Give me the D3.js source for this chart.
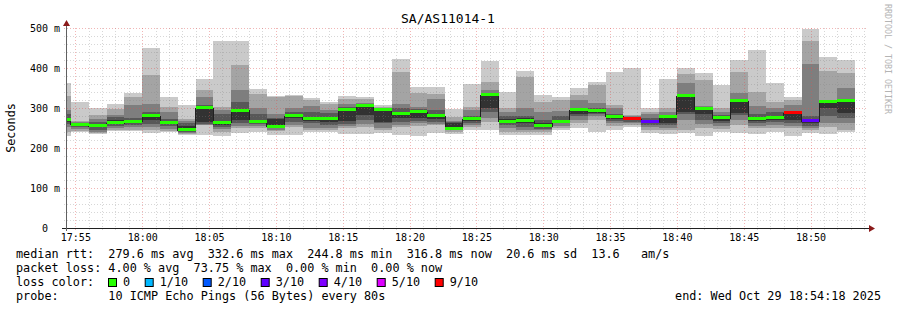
<!DOCTYPE html>
<html>
<head>
<meta charset="UTF-8">
<title>SA/AS11014-1</title>
<script src="https://d3js.org/d3.v7.min.js"></script>
<style>
  body { margin: 0; background: #fff; }
  svg { display: block; }
  text { font-family: "DejaVu Sans Mono", monospace; fill: #000; white-space: pre; }
</style>
</head>
<body>
<svg width="897" height="310"></svg>
<script>
// time window of the graph and the 80s steps (first one is cut by the left edge)
const viewStart = "17:54:18", viewEnd = "18:54:18";
const stepSeconds = 80;
const stepStarts = ["17:53:20","17:54:40","17:56:00","17:57:20","17:58:40","18:00:00","18:01:20","18:02:40",
  "18:04:00","18:05:20","18:06:40","18:08:00","18:09:20","18:10:40","18:12:00","18:13:20","18:14:40",
  "18:16:00","18:17:20","18:18:40","18:20:00","18:21:20","18:22:40","18:24:00","18:25:20","18:26:40",
  "18:28:00","18:29:20","18:30:40","18:32:00","18:33:20","18:34:40","18:36:00","18:37:20","18:38:40",
  "18:40:00","18:41:20","18:42:40","18:44:00","18:45:20","18:46:40","18:48:00","18:49:20","18:50:40","18:52:00"];

// 10 sorted pings per step (ms)
const pings = [
  [230,240,252,260,266,274,285,295,330,362],
  [240,243,248,252,256,260,262,264,268,315],
  [236,238,240,245,252,258,266,272,282,299],
  [243,246,250,255,260,270,278,282,297,309],
  [242,246,252,258,263,268,275,307,327,338],
  [237,245,252,260,270,284,290,310,382,450],
  [240,243,248,255,260,266,272,290,302,327],
  [232,235,237,240,242,255,262,268,273,307],
  [232,257,258,260,264,300,308,328,345,372],
  [231,240,248,252,258,266,285,295,302,467],
  [237,249,255,262,270,295,314,345,407,467],
  [241,249,255,260,263,270,285,300,335,347],
  [232,242,245,250,252,272,276,285,327,330],
  [232,252,258,265,276,283,289,299,330,333],
  [240,245,250,262,268,276,290,305,320,324],
  [240,244,250,258,266,278,287,295,310,316],
  [234,250,254,260,268,298,302,310,322,331],
  [236,253,260,270,282,305,308,312,322,328],
  [238,244,250,262,266,295,298,300,303,307],
  [232,253,258,265,275,290,300,310,391,423],
  [230,255,262,268,276,292,297,302,337,353],
  [237,257,260,265,272,285,295,322,335,353],
  [236,240,244,248,250,262,265,268,278,298],
  [245,252,258,262,268,275,280,295,303,359],
  [245,266,275,290,299,332,337,345,366,418],
  [232,241,250,258,263,272,280,291,300,341],
  [232,240,245,252,262,275,280,301,378,393],
  [232,240,244,248,252,262,270,290,316,332],
  [245,250,255,262,264,270,280,292,320,328],
  [249,262,270,280,285,292,300,320,332,351],
  [239,270,280,285,288,296,300,312,357,364],
  [245,255,262,268,272,280,285,300,307,391],
  [252,258,262,266,270,272,275,280,282,399],
  [237,245,252,258,262,268,275,284,290,299],
  [234,244,250,258,262,276,282,290,299,372],
  [237,245,270,285,291,330,335,362,385,399],
  [231,249,260,270,284,296,300,305,370,387],
  [239,248,255,262,268,276,282,290,300,357],
  [237,257,270,282,287,316,320,337,391,420],
  [234,249,255,262,268,274,285,304,341,445],
  [239,250,258,264,270,278,290,301,314,362],
  [231,249,256,262,270,287,292,307,320,328],
  [237,245,250,256,262,272,280,409,467,497],
  [234,253,262,280,299,314,318,320,393,428],
  [239,245,262,276,287,316,320,349,387,420]
];
const median = [270,258,255,262,266,280,263,245,300,263,293,266,253,280,272,272,296,305,295,285,
  289,280,247,272,332,266,267,255,266,294,292,278,272,266,278,329,297,274,317,272,276,287,267,315,317];
// lost pings out of 10 per step
const lossTenths = [0,0,0,0,0,0,0,0,0,0,0,0,0,0,0,0,0,0,0,0,0,0,0,0,0,0,0,0,0,0,0,0,
  7.375,2.5,0,0,0,0,0,0,0,5.5,2.6,0,0];

const lossLevels = [0, 1, 2, 3, 4, 5, 9];
const lossLabels = ["0", "1/10", "2/10", "3/10", "4/10", "5/10", "9/10"];
const lossColors = ["#26ff00", "#00b8ff", "#0059ff", "#5e00ff", "#7e00ff", "#dd00ff", "#ff0000"];
const smokeShades = ["#cacaca", "#a4a4a4", "#7e7e7e", "#585858", "#323232"];

const yTicks = [0, 100, 200, 300, 400, 500];
const yTickLabels = ["0  ", "100 m", "200 m", "300 m", "400 m", "500 m"];
const xTickLabels = ["17:55","18:00","18:05","18:10","18:15","18:20","18:25","18:30","18:35","18:40","18:45","18:50"];

const legendLines = [
  "median rtt:  279.6 ms avg  332.6 ms max  244.8 ms min  316.8 ms now  20.6 ms sd  13.6   am/s",
  "packet loss: 4.00 % avg  73.75 % max  0.00 % min  0.00 % now"
];
const probeLine = "probe:       10 ICMP Echo Pings (56 Bytes) every 80s";
const endLine = "end: Wed Oct 29 18:54:18 2025";

const parseT = d3.utcParse("%H:%M:%S");
const plot = {left: 66, right: 868, top: 28, bottom: 228};

const x = d3.scaleUtc()
    .domain([parseT(viewStart), parseT(viewEnd)])
    .range([plot.left, plot.right]);
const y = d3.scaleLinear()
    .domain([0, 500])
    .range([plot.bottom, plot.top]);

const svg = d3.select("svg");

svg.append("defs").append("clipPath").attr("id", "plotClip")
  .append("rect")
    .attr("x", plot.left + 1).attr("y", 0)
    .attr("width", plot.right - plot.left - 1).attr("height", plot.bottom);

const rows = stepStarts.map((s, i) => ({
  t0: parseT(s),
  t1: d3.utcSecond.offset(parseT(s), stepSeconds),
  p: pings[i],
  med: median[i],
  loss: lossTenths[i]
}));

function lossColor(l) {
  const i = lossLevels.findIndex(v => l <= v);
  return lossColors[i < 0 ? lossColors.length - 1 : i];
}

// smoke: outer pair lightest, inner pair darkest
const smoke = svg.append("g").attr("clip-path", "url(#plotClip)").attr("shape-rendering", "crispEdges");
smokeShades.forEach((shade, k) => {
  smoke.append("g")
    .selectAll("rect")
    .data(rows)
    .join("rect")
      .attr("x", d => Math.round(x(d.t0)))
      .attr("width", d => Math.round(x(d.t1)) - Math.round(x(d.t0)))
      .attr("y", d => Math.round(y(d.p[9 - k])))
      .attr("height", d => Math.round(y(d.p[k])) - Math.round(y(d.p[9 - k])))
      .attr("fill", shade);
});

// grid (drawn over the smoke, like rrdtool)
const minorCol = "rgba(130,130,130,0.32)", majorCol = "rgba(225,80,80,0.42)";
const grid = svg.append("g").attr("shape-rendering", "crispEdges");
const minutes = x.ticks(d3.utcMinute.every(1));
const fives = new Set(xTickLabels.map(t => +parseT(t + ":00")));
grid.selectAll(".vgrid")
  .data(minutes)
  .join("line")
    .attr("x1", d => Math.round(x(d)) + 0.5).attr("x2", d => Math.round(x(d)) + 0.5)
    .attr("y1", plot.top).attr("y2", plot.bottom + 2)
    .attr("stroke", d => fives.has(+d) ? majorCol : minorCol)
    .attr("stroke-dasharray", "1,2");
grid.selectAll(".hgrid")
  .data(d3.range(20, 501, 20))
  .join("line")
    .attr("x1", plot.left - 2).attr("x2", plot.right)
    .attr("y1", d => Math.round(y(d)) + 0.5).attr("y2", d => Math.round(y(d)) + 0.5)
    .attr("stroke", d => d % 100 === 0 ? majorCol : minorCol)
    .attr("stroke-dasharray", "1,2");

// median: thin dark step line + loss coloured segments
const medPts = rows.map(d => [x(d.t0), y(d.med)]);
medPts.push([x(rows[rows.length - 1].t1), y(rows[rows.length - 1].med)]);
const medG = svg.append("g").attr("clip-path", "url(#plotClip)").attr("shape-rendering", "crispEdges");
medG.append("path")
  .attr("d", d3.line().curve(d3.curveStepAfter)(medPts))
  .attr("fill", "none")
  .attr("stroke", "#202020")
  .attr("stroke-width", 1);
medG.selectAll(".seg")
  .data(rows)
  .join("rect")
    .attr("x", d => Math.round(x(d.t0)))
    .attr("width", d => Math.round(x(d.t1)) - Math.round(x(d.t0)))
    .attr("y", d => Math.round(y(d.med)) - 2)
    .attr("height", 3)
    .attr("fill", d => lossColor(d.loss));

// axes
const xAxis = svg.append("g")
    .attr("transform", `translate(0,${plot.bottom})`)
    .call(d3.axisBottom(x)
      .tickValues(xTickLabels.map(t => parseT(t + ":00")))
      .tickFormat(d3.utcFormat("%H:%M"))
      .tickSize(0).tickPadding(6));
xAxis.select(".domain").remove();
xAxis.selectAll("text").style("font-size", "10px").style("font-family", "'DejaVu Sans Mono', monospace");

const yAxis = svg.append("g")
    .attr("transform", `translate(${plot.left - 6},0)`)
    .call(d3.axisLeft(y)
      .tickValues(yTicks)
      .tickFormat((d, i) => yTickLabels[i])
      .tickSize(0).tickPadding(0));
yAxis.select(".domain").remove();
yAxis.selectAll("text").style("font-size", "10px").style("font-family", "'DejaVu Sans Mono', monospace");

svg.append("line")
  .attr("x1", plot.left - 4).attr("x2", plot.right + 1)
  .attr("y1", plot.bottom + 0.5).attr("y2", plot.bottom + 0.5)
  .attr("stroke", "#202020");
svg.append("line")
  .attr("x1", plot.left + 0.5).attr("x2", plot.left + 0.5)
  .attr("y1", plot.bottom + 3).attr("y2", plot.top - 5)
  .attr("stroke", "#606060");
svg.append("path")
  .attr("d", `M${plot.left - 3},${plot.top - 2}L${plot.left + 0.5},${plot.top - 8}L${plot.left + 4},${plot.top - 2}Z`)
  .attr("fill", "#8b1a1a");
svg.append("path")
  .attr("d", `M${plot.right + 1},${plot.bottom - 3}L${plot.right + 7},${plot.bottom + 0.5}L${plot.right + 1},${plot.bottom + 4}Z`)
  .attr("fill", "#8b1a1a");

// titles
svg.append("text")
  .attr("x", 448).attr("y", 23)
  .attr("text-anchor", "middle")
  .style("font-size", "13px")
  .text("SA/AS11014-1");

svg.append("text")
  .attr("transform", "translate(15,128) rotate(-90)")
  .attr("text-anchor", "middle")
  .style("font-size", "11.8px")
  .text("Seconds");

svg.append("text")
  .attr("transform", "translate(885,59) rotate(90)")
  .attr("text-anchor", "middle")
  .style("font-size", "8.3px")
  .style("fill", "#b4b4b4")
  .text("RRDTOOL / TOBI OETIKER");

// legend
const legend = svg.append("g").style("font-size", "11.8px");
legendLines.forEach((line, i) => {
  legend.append("text").attr("x", 16).attr("y", 258 + i * 14).text(line);
});
legend.append("text").attr("x", 16).attr("y", 286).text("loss color:");
let bx = 108;
lossLabels.forEach((lab, i) => {
  legend.append("rect")
    .attr("x", bx + 0.5).attr("y", 278.5)
    .attr("width", 8).attr("height", 8)
    .attr("fill", lossColors[i])
    .attr("stroke", "#000");
  legend.append("text").attr("x", bx + 15).attr("y", 286).text(lab);
  bx += 15 + lab.length * 7.1 + 14.6;
});
legend.append("text").attr("x", 16).attr("y", 300).text(probeLine);
legend.append("text").attr("x", 881).attr("y", 300).attr("text-anchor", "end").text(endLine);
</script>
</body>
</html>
